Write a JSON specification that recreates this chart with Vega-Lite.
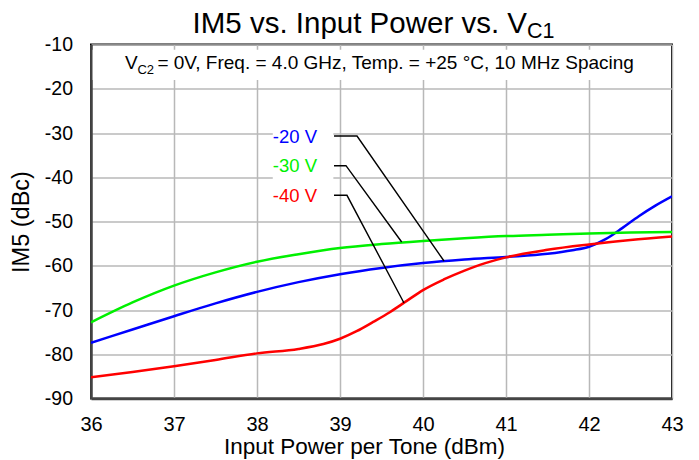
{
  "$schema": "https://vega.github.io/schema/vega-lite/v6.json",
  "width": 581,
  "height": 354,
  "autosize": "none",
  "padding": {"left": 91, "top": 44.5, "right": 27, "bottom": 61.5},
  "background": "#ffffff",
  "config": {
    "font": "Liberation Sans",
    "view": {"stroke": "#000000", "strokeWidth": 2},
    "axis": {
      "grid": true,
      "gridColor": "#b8b8b8",
      "gridWidth": 1.5,
      "ticks": false,
      "labelFont": "Liberation Sans",
      "labelFontSize": 19.5,
      "labelColor": "#000000",
      "titleFont": "Liberation Sans",
      "titleFontWeight": "normal",
      "titleColor": "#000000",
      "domainColor": "#444444",
      "domainWidth": 2.5
    }
  },
  "datasets": {
    "curves": [
      {"s": "-20 V", "x": 36, "y": -77.4},
      {"s": "-20 V", "x": 36.5, "y": -74.4},
      {"s": "-20 V", "x": 37, "y": -71.4},
      {"s": "-20 V", "x": 37.5, "y": -68.5},
      {"s": "-20 V", "x": 38, "y": -65.9},
      {"s": "-20 V", "x": 38.5, "y": -63.7},
      {"s": "-20 V", "x": 39, "y": -61.9},
      {"s": "-20 V", "x": 39.5, "y": -60.5},
      {"s": "-20 V", "x": 40, "y": -59.4},
      {"s": "-20 V", "x": 40.5, "y": -58.6},
      {"s": "-20 V", "x": 41, "y": -58.0},
      {"s": "-20 V", "x": 41.5, "y": -57.3},
      {"s": "-20 V", "x": 41.8, "y": -56.5},
      {"s": "-20 V", "x": 42, "y": -55.7},
      {"s": "-20 V", "x": 42.2, "y": -54.0},
      {"s": "-20 V", "x": 42.4, "y": -51.5},
      {"s": "-20 V", "x": 42.6, "y": -48.8},
      {"s": "-20 V", "x": 42.8, "y": -46.4},
      {"s": "-20 V", "x": 43, "y": -44.3},
      {"s": "-30 V", "x": 36, "y": -72.8},
      {"s": "-30 V", "x": 36.5, "y": -68.3},
      {"s": "-30 V", "x": 37, "y": -64.5},
      {"s": "-30 V", "x": 37.5, "y": -61.5},
      {"s": "-30 V", "x": 38, "y": -59.1},
      {"s": "-30 V", "x": 38.5, "y": -57.4},
      {"s": "-30 V", "x": 39, "y": -56.0},
      {"s": "-30 V", "x": 39.5, "y": -55.1},
      {"s": "-30 V", "x": 40, "y": -54.4},
      {"s": "-30 V", "x": 40.5, "y": -53.8},
      {"s": "-30 V", "x": 41, "y": -53.3},
      {"s": "-30 V", "x": 41.5, "y": -53.0},
      {"s": "-30 V", "x": 42, "y": -52.7},
      {"s": "-30 V", "x": 42.5, "y": -52.5},
      {"s": "-30 V", "x": 43, "y": -52.4},
      {"s": "-40 V", "x": 36, "y": -85.2},
      {"s": "-40 V", "x": 36.5, "y": -84.0},
      {"s": "-40 V", "x": 37, "y": -82.7},
      {"s": "-40 V", "x": 37.5, "y": -81.3},
      {"s": "-40 V", "x": 38, "y": -79.8},
      {"s": "-40 V", "x": 38.5, "y": -78.8},
      {"s": "-40 V", "x": 38.8, "y": -77.7},
      {"s": "-40 V", "x": 39, "y": -76.5},
      {"s": "-40 V", "x": 39.2, "y": -74.8},
      {"s": "-40 V", "x": 39.4, "y": -72.7},
      {"s": "-40 V", "x": 39.6, "y": -70.5},
      {"s": "-40 V", "x": 39.8, "y": -68.0},
      {"s": "-40 V", "x": 40, "y": -65.5},
      {"s": "-40 V", "x": 40.25, "y": -63.1},
      {"s": "-40 V", "x": 40.5, "y": -61.1},
      {"s": "-40 V", "x": 40.75, "y": -59.4},
      {"s": "-40 V", "x": 41, "y": -58.1},
      {"s": "-40 V", "x": 41.5, "y": -56.4},
      {"s": "-40 V", "x": 42, "y": -55.2},
      {"s": "-40 V", "x": 42.5, "y": -54.2},
      {"s": "-40 V", "x": 43, "y": -53.4}
    ],
    "leaders": [
      {"s": "-20 V", "i": 1, "x": 38.928, "y": -30.68},
      {"s": "-20 V", "i": 2, "x": 39.205, "y": -30.68},
      {"s": "-20 V", "i": 3, "x": 40.253, "y": -58.93},
      {"s": "-30 V", "i": 1, "x": 38.928, "y": -37.39},
      {"s": "-30 V", "i": 2, "x": 39.072, "y": -37.39},
      {"s": "-30 V", "i": 3, "x": 39.743, "y": -54.63},
      {"s": "-40 V", "i": 1, "x": 38.928, "y": -44.08},
      {"s": "-40 V", "i": 2, "x": 39.084, "y": -44.08},
      {"s": "-40 V", "i": 3, "x": 39.771, "y": -68.42}
    ],
    "labels": [
      {"s": "-20 V", "x": 38.723, "y": -32.2},
      {"s": "-30 V", "x": 38.723, "y": -38.9},
      {"s": "-40 V", "x": 38.723, "y": -45.5}
    ],
    "boxes": [
      {"x": 36.02, "x2": 42.98, "y": -11.2, "y2": -18.0},
      {"x": 38.19, "x2": 38.92, "y": -28.3, "y2": -46.5}
    ]
  },
  "layer": [
    {
      "data": {"name": "boxes"},
      "mark": {"type": "rect", "fill": "#ffffff", "stroke": null},
      "encoding": {
        "x": {"field": "x", "type": "quantitative", "scale": {"domain": [36, 43], "nice": false, "zero": false},
          "axis": {"values": [36, 37, 38, 39, 40, 41, 42, 43], "labelExpr": "'' + datum.value", "labelFontSize": 20, "labelPadding": 16, "labelFlush": false, "title": "Input Power per Tone (dBm)", "titleFontSize": 22.5, "titlePadding": 1, "titleX": 273}},
        "x2": {"field": "x2"},
        "y": {"field": "y", "type": "quantitative", "scale": {"domain": [-90, -10], "nice": false, "zero": false},
          "axis": {"values": [-90, -80, -70, -60, -50, -40, -30, -20, -10], "labelExpr": "'' + datum.value", "labelFontSize": 19.5, "labelPadding": 18.5, "labelFlush": false, "title": "IM5 (dBc)", "titleFontSize": 23.5, "titlePadding": 11}},
        "y2": {"field": "y2"}
      }
    },
    {
      "data": {"name": "curves"},
      "mark": {"type": "line", "interpolate": "monotone", "strokeWidth": 2.5, "clip": true},
      "encoding": {
        "x": {"field": "x", "type": "quantitative"},
        "y": {"field": "y", "type": "quantitative"},
        "color": {"field": "s", "type": "nominal", "scale": {"domain": ["-20 V", "-30 V", "-40 V"], "range": ["#0000ff", "#00f000", "#ff0000"]}, "legend": null}
      }
    },
    {
      "data": {"name": "leaders"},
      "mark": {"type": "line", "color": "#000000", "strokeWidth": 1.4},
      "encoding": {
        "x": {"field": "x", "type": "quantitative"},
        "y": {"field": "y", "type": "quantitative"},
        "detail": {"field": "s"},
        "order": {"field": "i"}
      }
    },
    {
      "data": {"name": "labels"},
      "mark": {"type": "text", "align": "right", "baseline": "alphabetic", "fontSize": 18.5},
      "encoding": {
        "x": {"field": "x", "type": "quantitative"},
        "y": {"field": "y", "type": "quantitative"},
        "text": {"field": "s"},
        "color": {"field": "s", "type": "nominal", "legend": null}
      }
    },
    {
      "data": {"values": [{"t": "IM5 vs. Input Power vs. V"}]},
      "mark": {"type": "text", "align": "right", "baseline": "alphabetic", "fontSize": 29.5, "color": "#000000"},
      "encoding": {"x": {"datum": 41.253}, "y": {"datum": -7.38}, "text": {"field": "t"}}
    },
    {
      "data": {"values": [{"t": "C1"}]},
      "mark": {"type": "text", "align": "left", "baseline": "alphabetic", "fontSize": 21.5, "color": "#000000"},
      "encoding": {"x": {"datum": 41.253}, "y": {"datum": -8.42}, "text": {"field": "t"}}
    },
    {
      "data": {"values": [{"t": "V"}]},
      "mark": {"type": "text", "align": "left", "baseline": "alphabetic", "fontSize": 19, "color": "#000000"},
      "encoding": {"x": {"datum": 36.41}, "y": {"datum": -15.6}, "text": {"field": "t"}}
    },
    {
      "data": {"values": [{"t": "C2"}]},
      "mark": {"type": "text", "align": "left", "baseline": "alphabetic", "fontSize": 13, "color": "#000000"},
      "encoding": {"x": {"datum": 36.56}, "y": {"datum": -16.67}, "text": {"field": "t"}}
    },
    {
      "data": {"values": [{"t": "= 0V, Freq. = 4.0 GHz, Temp. = +25 °C, 10 MHz Spacing"}]},
      "mark": {"type": "text", "align": "left", "baseline": "alphabetic", "fontSize": 19, "color": "#000000"},
      "encoding": {"x": {"datum": 36.8}, "y": {"datum": -15.6}, "text": {"field": "t"}}
    }
  ]
}
